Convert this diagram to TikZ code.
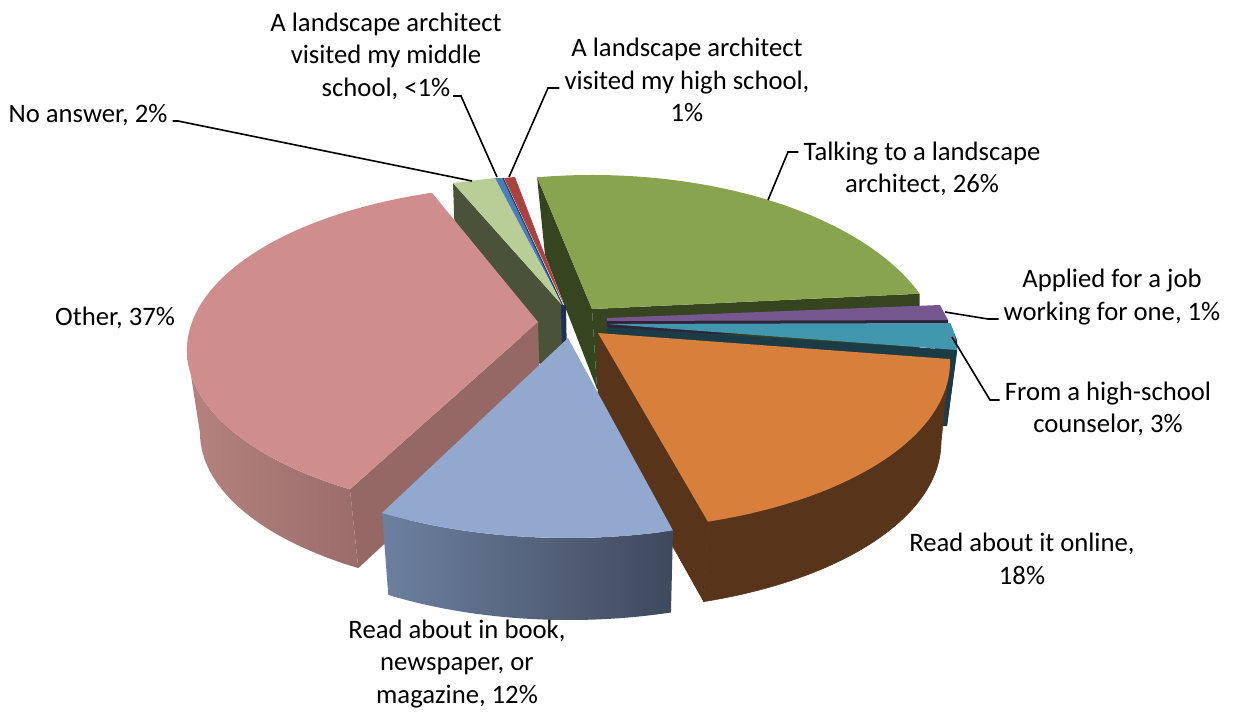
\documentclass[tikz,border=0pt]{standalone}
\usepackage{fontspec}
\setmainfont{Carlito}
\usetikzlibrary{calc}

% slice colours
\definecolor{greenTop}{HTML}{88A44E}
\definecolor{greenSide}{HTML}{374420}
\definecolor{oliveTop}{HTML}{B9CD96}
\definecolor{oliveSide}{HTML}{4B523A}
\definecolor{pinkTop}{HTML}{CF8E8D}
\definecolor{pinkCut}{HTML}{956866}
\definecolor{pinkSideL}{HTML}{B5837F}
\definecolor{pinkSideR}{HTML}{9A6C6A}
\definecolor{bookTop}{HTML}{93A8CE}
\definecolor{bookSideL}{HTML}{6D80A0}
\definecolor{bookSideR}{HTML}{3F495C}
\definecolor{orangeTop}{HTML}{D87F3C}
\definecolor{orangeSide}{HTML}{57341A}
\definecolor{tealTop}{HTML}{4097AE}
\definecolor{tealSide}{HTML}{1B3C47}
\definecolor{purpleTop}{HTML}{76578F}
\definecolor{purpleSide}{HTML}{30233A}
\definecolor{redSliver}{HTML}{AA423F}
\definecolor{blueSliver}{HTML}{4A7EBB}
\definecolor{navySliver}{HTML}{1F3350}

\tikzset{
  lbl/.style={font=\fontsize{26.67}{32.5}\selectfont, align=center, inner xsep=5pt, inner ysep=0pt},
  leader/.style={draw=black, line width=1.6pt},
}

\begin{document}
\begin{tikzpicture}[x=1pt,y=-1pt]
\useasboundingbox (0,0) rectangle (1235,713);

% ellipse centres of the top and bottom faces
\coordinate (cGreen) at (592,360);
\coordinate (cOr) at (598,362);
\coordinate (cOrB) at (596,442);
\coordinate (cPink) at (538,350);
\coordinate (cPinkB) at (541,433);
\coordinate (cBook) at (568,373);
\coordinate (cBookB) at (569,455);

% slice tips
\coordinate (vGreen) at (592,309);
\coordinate (vOlive) at (562,305);
\coordinate (vPurple) at (607,318);
\coordinate (vTeal) at (607,324);
\coordinate (vOr) at (598,333);
\coordinate (vPink) at (538,322);
\coordinate (vBook) at (568,338);

% Talking to a landscape architect (back)
\coordinate (gTL) at ($(cGreen)+(-99:351 and 185)$);
\coordinate (gR) at ($(cGreen)+(-21:351 and 185)$);
\fill[greenSide] (gTL) -- (vGreen) -- (597,389) -- (545,255) -- cycle;
\fill[greenSide] (vGreen) -- (gR) -- ++(0,80) -- (597,389) -- cycle;
\fill[greenTop] (vGreen) -- (gTL) arc[start angle=-99, end angle=-21, x radius=351, y radius=185] -- cycle;

% No answer and the two small slices
\fill[oliveSide] (453,183) -- (vOlive) -- (563,362) -- (548,376) -- (455,240) -- cycle;
\fill[oliveTop] (453,183) -- (495,178) -- (vOlive) -- cycle;
\fill[blueSliver] (495,178) -- (503,178) -- (563,306) -- cycle;
\draw[navySliver, line width=1pt] (503,178) -- (563,306);
\fill[redSliver] (504,178) -- (515,177) -- (564,305) -- cycle;
\fill[navySliver] (561,305) -- (566,305) -- (567,362) -- (562,362) -- cycle;

% Applied for a job
\fill[purpleSide] (607,321) -- (948,320) -- (948,334) -- (607,334) -- cycle;
\fill[purpleTop] (vPurple) -- (940,305) -- (948,320) -- (607,321) -- cycle;

% From a high-school counselor
\fill[tealSide] (607,327) -- (957,350) -- (947,426) -- (607,410) -- cycle;
\fill[tealSide] (950,323) -- (957,340) -- (957,352) -- (947,426) -- (935,426) -- (935,323) -- cycle;
\fill[tealTop] (vTeal) -- (950,323) .. controls (954,330) and (956,340) .. (957,350) -- cycle;

% Read about it online
\coordinate (oR) at ($(cOr)+(-1:352 and 168)$);
\coordinate (oF) at ($(cOr)+(71.8:352 and 168)$);
\coordinate (oFB) at ($(cOrB)+(71.8:345 and 168)$);
\filldraw[orangeSide, line width=0.6pt] (vOr) -- (oF) -- (oFB) -- (598,413) -- cycle;
\filldraw[orangeSide, line width=0.6pt] (oR) arc[start angle=-1, end angle=71.8, x radius=352, y radius=168]
  -- (oFB) arc[start angle=71.8, end angle=0, x radius=345, y radius=168] -- cycle;
\fill[orangeTop] (vOr) -- (oR) arc[start angle=-1, end angle=71.8, x radius=352, y radius=168] -- cycle;

% Other
\coordinate (pTop) at ($(cPink)+(-107.6:351 and 165)$);
\coordinate (pL) at ($(cPink)+(-180:351 and 165)$);
\coordinate (pF) at ($(cPink)+(-237.6:351 and 165)$);
\coordinate (pFB) at ($(cPinkB)+(-237.6:341 and 160)$);
\fill[pinkCut] (pF) -- (vPink) -- (540,400) -- (pFB) -- cycle;
\shade[left color=pinkSideL, right color=pinkSideR] (pL) arc[start angle=-180, end angle=-237.6, x radius=351, y radius=165]
  -- (pFB) arc[start angle=-237.6, end angle=-180, x radius=341, y radius=160] -- cycle;
\fill[pinkTop] (vPink) -- (pTop) arc[start angle=-107.6, end angle=-237.6, x radius=351, y radius=165] -- cycle;

% Read about in book (front)
\coordinate (bL) at ($(cBook)+(-238:351 and 165)$);
\coordinate (bLB) at ($(cBookB)+(-238:341 and 165)$);
\coordinate (bRB) at ($(cBookB)+(-287.4:341 and 165)$);
\shade[left color=bookSideL, right color=bookSideR] (bL) arc[start angle=-238, end angle=-287.4, x radius=351, y radius=165]
  -- (bRB) arc[start angle=-287.4, end angle=-238, x radius=341, y radius=165] -- cycle;
\fill[bookTop] (vBook) -- (bL) arc[start angle=-238, end angle=-287.4, x radius=351, y radius=165] -- cycle;

% Labels
\node[lbl] (lblNoAns) at (88,115) {No answer, 2\%};
\node[lbl] (lblMid) at (386,56) {A landscape architect\\visited my middle\\school, <1\%};
\node[lbl] (lblHigh) at (687,80) {A landscape architect\\visited my high school,\\1\%};
\node[lbl] (lblTalk) at (922,169) {Talking to a landscape\\architect, 26\%};
\node[lbl] (lblApplied) at (1112,297) {Applied for a job\\working for one, 1\%};
\node[lbl] (lblFrom) at (1108,409) {From a high-school\\counselor, 3\%};
\node[lbl] (lblOnline) at (1022,559) {Read about it online,\\18\%};
\node[lbl] (lblOther) at (115,318) {Other, 37\%};
\node[lbl] (lblBook) at (457,664) {Read about in book,\\newspaper, or\\magazine, 12\%};

% Leader lines
\coordinate (noAnsKnee) at (178,121);
\coordinate (noAnsTip) at (472,181);
\coordinate (midStart) at (453,96);
\coordinate (midKnee) at (461,96);
\coordinate (midTip) at (497,177);
\coordinate (highKnee) at (548,88);
\coordinate (highTip) at (509,177);
\coordinate (talkKnee) at (788,152);
\coordinate (talkTip) at (768,200);
\coordinate (appliedKnee) at (988,319);
\coordinate (appliedTip) at (945,312);
\coordinate (fromKnee) at (990,400);
\coordinate (fromTip) at (952,337);
\draw[leader] (lblNoAns.east |- noAnsKnee) -- (noAnsKnee) -- (noAnsTip);
\draw[leader] (midStart) -- (midKnee) -- (midTip);
\draw[leader] (lblHigh.west |- highKnee) -- (highKnee) -- (highTip);
\draw[leader] (lblTalk.west |- talkKnee) -- (talkKnee) -- (talkTip);
\draw[leader] (lblApplied.west |- appliedKnee) -- (appliedKnee) -- (appliedTip);
\draw[leader] (lblFrom.west |- fromKnee) -- (fromKnee) -- (fromTip);
\end{tikzpicture}
\end{document}
